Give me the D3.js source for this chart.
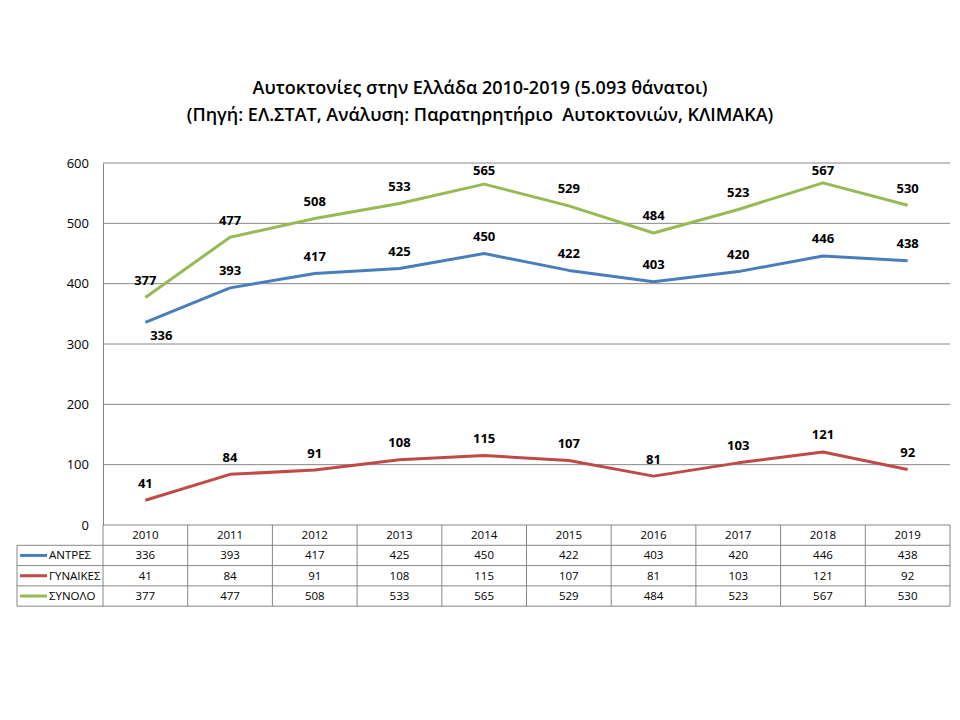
<!DOCTYPE html>
<html><head><meta charset="utf-8">
<script src="https://cdn.jsdelivr.net/npm/d3@7"></script>
<style>body{margin:0;background:#fff}text{font-family:"Open Sans","DejaVu Sans",sans-serif}</style>
</head><body><svg id="c" width="960" height="720"></svg>
<script>
const years = ["2010","2011","2012","2013","2014","2015","2016","2017","2018","2019"];
const seriesNames = ["ΑΝΤΡΕΣ","ΓΥΝΑΙΚΕΣ","ΣΥΝΟΛΟ"];
const andres = [336,393,417,425,450,422,403,420,446,438];
const gynaikes = [41,84,91,108,115,107,81,103,121,92];
const synolo = [377,477,508,533,565,529,484,523,567,530];
const yTicks = [0,100,200,300,400,500,600];
const titleLines = ["Αυτοκτονίες στην Ελλάδα 2010-2019 (5.093 θάνατοι)","(Πηγή: ΕΛ.ΣΤΑΤ, Ανάλυση: Παρατηρητήριο  Αυτοκτονιών, ΚΛΙΜΑΚΑ)"];

const colors = ["#4a7ebb","#be4b48","#98b954"];
const series = [andres, gynaikes, synolo];
const svg = d3.select("#c");
const L=103, R=950, T=163, B=525, legL=17, rowH=20.3;

const x = d3.scaleBand().domain(years).range([L,R]);
const y = d3.scaleLinear().domain([0,600]).range([B,T]);

// title
svg.append("g").selectAll("text").data(titleLines).join("text")
  .attr("x",480).attr("y",(d,i)=>94+i*27).attr("text-anchor","middle")
  .style("white-space","pre")
  .attr("font-size",18).attr("font-weight",600).attr("fill","#000").text(d=>d);

// gridlines
svg.append("g").selectAll("line").data(yTicks.filter(d=>d>0)).join("line")
  .attr("x1",L).attr("x2",R).attr("y1",d=>y(d)).attr("y2",d=>y(d))
  .attr("stroke","#868686").attr("stroke-width",1);
// y axis
const yAxis = d3.axisLeft(y).tickValues(yTicks).tickSize(0).tickPadding(14);
const ga = svg.append("g").attr("transform",`translate(${L},0)`).call(yAxis);
ga.select(".domain").attr("stroke","#868686");
ga.selectAll("text").attr("font-size",13).attr("fill","#000").style("font-family",'"Open Sans",sans-serif');

// lines
const line = d3.line().x((d,i)=>x(years[i])+x.bandwidth()/2).y(d=>y(d));
series.forEach((s,k)=>{
  svg.append("path").datum(s).attr("d",line).attr("fill","none")
    .attr("stroke",colors[k]).attr("stroke-width",3).attr("stroke-linejoin","round");
});
// labels
series.forEach((s,k)=>{
  svg.append("g").selectAll("text").data(s).join("text")
    .attr("x",(d,i)=>x(years[i])+x.bandwidth()/2 + (k===0&&i===0?16:0))
    .attr("y",(d,i)=> (k===0&&i===0) ? y(d)+18 : Math.max(y(d)-12.5, 175))
    .attr("text-anchor","middle").attr("font-size",13).attr("font-weight",700)
    .attr("fill","#000").text(d=>d);
});

// data table
const tg = svg.append("g");
const rowsY = [B, B+rowH, B+2*rowH, B+3*rowH, B+4*rowH];
tg.append("line").attr("x1",L).attr("x2",R).attr("y1",B).attr("y2",B).attr("stroke","#868686");
rowsY.slice(1).forEach(yy=>tg.append("line").attr("x1",legL).attr("x2",R).attr("y1",yy).attr("y2",yy).attr("stroke","#868686"));
tg.append("line").attr("x1",legL).attr("x2",legL).attr("y1",rowsY[1]).attr("y2",rowsY[4]).attr("stroke","#868686");
years.forEach(yr=>tg.append("line").attr("x1",x(yr)).attr("x2",x(yr)).attr("y1",B).attr("y2",rowsY[4]).attr("stroke","#868686"));
tg.append("line").attr("x1",R).attr("x2",R).attr("y1",B).attr("y2",rowsY[4]).attr("stroke","#868686");
tg.selectAll("text.h").data(years).join("text").attr("class","h")
  .attr("x",d=>x(d)+x.bandwidth()/2).attr("y",B+rowH/2+4).attr("text-anchor","middle")
  .attr("font-size",11.5).attr("fill","#000").text(d=>d);
series.forEach((s,k)=>{
  const yy = rowsY[k+1]+rowH/2;
  tg.append("line").attr("x1",20).attr("x2",47).attr("y1",yy).attr("y2",yy).attr("stroke",colors[k]).attr("stroke-width",3);
  tg.append("text").attr("x",49).attr("y",yy+4).attr("font-size",11.5).attr("fill","#000").text(seriesNames[k]);
  tg.append("g").selectAll("text").data(s).join("text")
    .attr("x",(d,i)=>x(years[i])+x.bandwidth()/2).attr("y",yy+4).attr("text-anchor","middle")
    .attr("font-size",11.5).attr("fill","#000").text(d=>d);
});
</script></body></html>
